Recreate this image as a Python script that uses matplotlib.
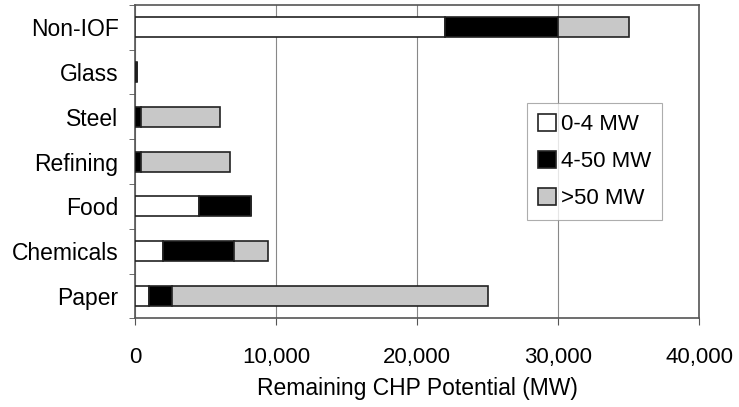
import numpy as np
import matplotlib.pyplot as plt
from matplotlib.ticker import FuncFormatter, FixedLocator

plt.rcParams['font.family'] = ['Liberation Sans', 'DejaVu Sans']

# bottom to top, as drawn
sectors = ['Paper', 'Chemicals', 'Food', 'Refining', 'Steel', 'Glass', 'Non-IOF']
small = [1000, 2000, 4500, 0, 0, 0, 22000]          # 0-4 MW
medium = [1600, 5000, 3700, 400, 400, 150, 8000]    # 4-50 MW
large = [22400, 2400, 0, 6300, 5600, 0, 5000]       # >50 MW
series_names = ['0-4 MW', '4-50 MW', '>50 MW']
colors = ['white', 'black', '#c8c8c8']

fig, ax = plt.subplots(figsize=(7.39, 4.07), dpi=100)
fig.subplots_adjust(left=0.183, right=0.946, top=0.988, bottom=0.218)

y = np.arange(len(sectors))
left = np.zeros(len(sectors))
for vals, name, col in zip([small, medium, large], series_names, colors):
    ax.barh(y, vals, left=left, height=0.45, color=col, edgecolor='#222222',
            linewidth=1.2, label=name, zorder=3)
    left += np.array(vals)

ax.set_xlim(0, 40000)
ax.set_ylim(-0.5, len(sectors) - 0.5)
ax.set_xticks([0, 10000, 20000, 30000, 40000])
ax.xaxis.set_major_formatter(FuncFormatter(lambda v, p: f'{int(v):,}'))
ax.set_yticks(y)
ax.set_yticklabels(sectors)
ax.yaxis.set_minor_locator(FixedLocator(np.arange(-0.5, len(sectors), 1.0)))
ax.tick_params(axis='y', which='major', length=0, labelsize=16.5, pad=12)
ax.tick_params(axis='y', which='minor', length=4, direction='out', color='#555555')
ax.tick_params(axis='x', labelsize=16, length=5, direction='out', color='#555555', pad=16)

ax.grid(axis='x', color='#888888', linewidth=0.8, zorder=0)
for s in ax.spines.values():
    s.set_color('#555555')
    s.set_linewidth(1.2)

ax.set_xlabel('Remaining CHP Potential (MW)', fontsize=16.5, labelpad=6)

leg = ax.legend(loc='center right', bbox_to_anchor=(0.935, 0.5), fontsize=16,
                frameon=True, fancybox=False, handlelength=0.8, handleheight=0.8,
                handletextpad=0.25, borderpad=0.5, labelspacing=0.7,
                borderaxespad=0)
leg.get_frame().set_edgecolor('#999999')
leg.get_frame().set_linewidth(0.8)

plt.savefig('out.png', dpi=100)
